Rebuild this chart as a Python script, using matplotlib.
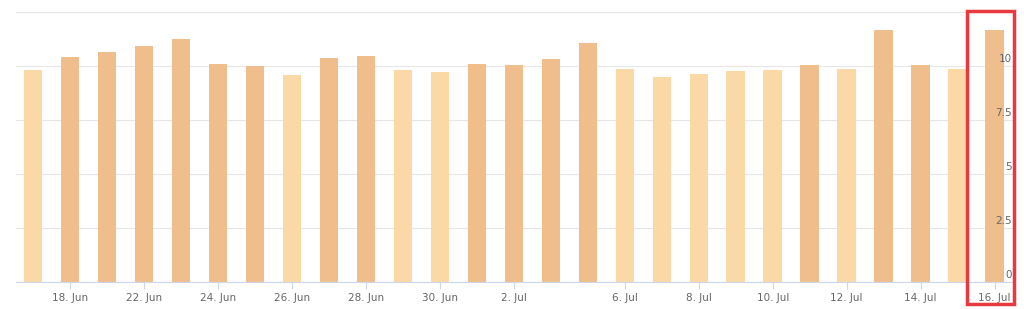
import numpy as np
import matplotlib.pyplot as plt
from matplotlib.patches import Rectangle

# daily values, 17 Jun -> 16 Jul (some days missing)
values = [9.81, 10.41, 10.63, 10.94, 11.23, 10.09, 10.0, 9.59, 10.38,
          10.46, 9.81, 9.73, 10.09, 10.03, 10.33, 11.05, 9.84, 9.47,
          9.64, 9.76, 9.81, 10.03, 9.84, 11.66, 10.03, 9.84, 11.66]

# x labels at some of the bars
tick_idx = [1, 3, 5, 7, 9, 11, 13, 16, 18, 20, 22, 24, 26]
tick_labels = ["18. Jun", "22. Jun", "24. Jun", "26. Jun", "28. Jun", "30. Jun",
               "2. Jul", "6. Jul", "8. Jul", "10. Jul", "12. Jul", "14. Jul", "16. Jul"]

y_ticks = [0, 2.5, 5, 7.5, 10, 12.5]
y_labels = ["0", "2.5", "5", "7.5", "10", ""]

light = "#fad9a6"
dark = "#f0be8c"
colors = [dark if v >= 10 else light for v in values]

fig = plt.figure(figsize=(10.24, 3.09), dpi=100)
ax = fig.add_axes([0.0156, 0.0883, 0.9756, 0.8728])

x = np.arange(len(values))
ax.bar(x, values, width=0.5, color=colors, zorder=2)

ax.set_xlim(-0.46, len(values) - 0.45)
ax.set_ylim(0, 12.5)

ax.set_yticks(y_ticks)
ax.yaxis.grid(True, color="#e6e6e6", linewidth=0.8)
ax.set_axisbelow(True)
ax.tick_params(axis="y", length=0, labelleft=False, labelright=False)

for v, lab in zip(y_ticks, y_labels):
    ax.annotate(lab, xy=(1.0, v), xycoords=("axes fraction", "data"),
                xytext=(-2, 1.5), textcoords="offset points",
                ha="right", va="bottom", fontsize=7.5, color="#666666")

ax.set_xticks(tick_idx)
ax.set_xticklabels(tick_labels, fontsize=7.5, color="#666666")
ax.tick_params(axis="x", length=5, color="#ccd6eb", width=0.8, pad=3)

for s in ["top", "right", "left"]:
    ax.spines[s].set_visible(False)
ax.spines["bottom"].set_color("#ccd6eb")
ax.spines["bottom"].set_linewidth(0.8)

# red highlight box around the last day
fig.patches.append(Rectangle((967 / 1024, 1 - 304 / 309), 47 / 1024, 293 / 309,
                             transform=fig.transFigure, fill=False,
                             edgecolor="#e8393f", linewidth=2.5, zorder=10))

plt.savefig("out.png", dpi=100)
